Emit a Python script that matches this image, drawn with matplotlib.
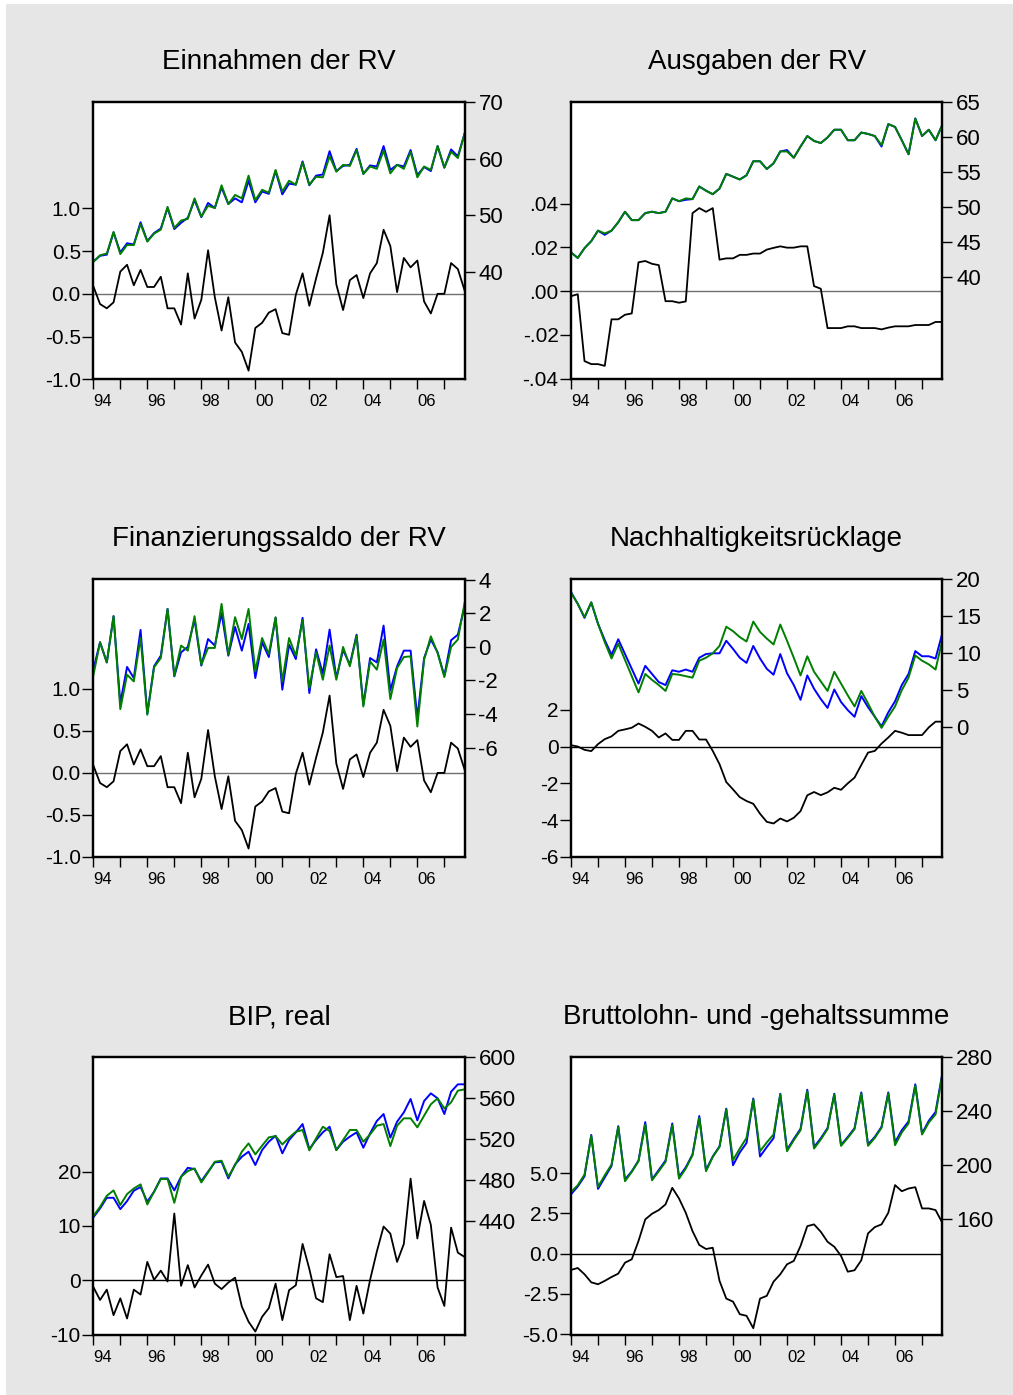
import matplotlib
matplotlib.use('Agg')
import matplotlib.pyplot as plt
import numpy as np
from matplotlib.patches import Rectangle

plt.rcParams['font.family'] = ['Liberation Sans', 'DejaVu Sans']
plt.rcParams['axes.unicode_minus'] = False

# quarterly observations 1994Q1 - 2007Q4
quarters = 1994 + np.arange(56) / 4.0
years = np.arange(1994, 2008)

# --- Einnahmen der RV
einnahmen_resid = [0.09, -0.12, -0.17, -0.10, 0.26, 0.34, 0.10, 0.28, 0.08, 0.08,
                   0.20, -0.17, -0.17, -0.36, 0.24, -0.29, -0.07, 0.51, -0.04, -0.43,
                   -0.04, -0.57, -0.68, -0.90, -0.40, -0.34, -0.22, -0.18, -0.46, -0.48,
                   -0.01, 0.24, -0.14, 0.18, 0.48, 0.92, 0.11, -0.19, 0.16, 0.22,
                   -0.05, 0.24, 0.36, 0.75, 0.56, 0.02, 0.42, 0.31, 0.39, -0.09,
                   -0.23, 0.00, 0.00, 0.36, 0.29, 0.04]
einnahmen_actual = [41.9, 42.9, 43.1, 47.0, 43.5, 45.1, 44.9, 48.8, 45.5, 46.9,
                    47.7, 51.3, 47.6, 48.7, 49.6, 52.7, 49.7, 52.2, 51.3, 54.9,
                    52.0, 53.0, 52.3, 56.1, 52.3, 54.2, 53.8, 57.8, 53.7, 55.6,
                    55.4, 59.5, 55.3, 57.0, 57.2, 61.3, 57.8, 58.7, 58.9, 61.7,
                    57.3, 58.8, 58.6, 62.2, 58.0, 58.9, 58.6, 61.5, 57.1, 58.5,
                    57.8, 62.2, 58.4, 61.6, 60.4, 64.4]
einnahmen_fitted = [41.8, 43.0, 43.3, 47.1, 43.2, 44.8, 44.8, 48.5, 45.4, 46.8,
                    47.5, 51.5, 47.8, 49.1, 49.4, 53.0, 49.8, 51.7, 51.3, 55.3,
                    52.0, 53.6, 53.0, 57.0, 52.7, 54.5, 54.0, 58.0, 54.2, 56.1,
                    55.4, 59.3, 55.4, 56.8, 56.7, 60.4, 57.7, 58.9, 58.7, 61.5,
                    57.3, 58.6, 58.2, 61.4, 57.4, 58.9, 58.2, 61.2, 56.7, 58.6,
                    58.0, 62.2, 58.4, 61.2, 60.1, 64.4]

# --- Ausgaben der RV
ausgaben_resid = [-0.0023, -0.0014, -0.032, -0.0334, -0.0334, -0.0342, -0.0129, -0.0129, -0.0108, -0.0102,
                  0.0132, 0.0138, 0.0125, 0.0119, -0.0046, -0.0046, -0.0053, -0.0047, 0.0357, 0.038,
                  0.0363, 0.038, 0.0144, 0.015, 0.015, 0.0166, 0.0166, 0.0172, 0.0172, 0.019,
                  0.0198, 0.0205, 0.0199, 0.0199, 0.0205, 0.0205, 0.0023, 0.0011, -0.0169, -0.0169,
                  -0.0169, -0.0161, -0.0161, -0.0169, -0.0169, -0.0169, -0.0175, -0.0167, -0.0161, -0.0161,
                  -0.0161, -0.0155, -0.0155, -0.0155, -0.0141, -0.0141]
ausgaben_actual = [43.5, 42.7, 44.1, 45.1, 46.6, 46.0, 46.6, 47.8, 49.3, 48.1,
                   48.1, 49.1, 49.3, 49.1, 49.3, 51.2, 50.8, 51.0, 51.1, 52.9,
                   52.3, 51.8, 52.6, 54.7, 54.3, 53.9, 54.5, 56.5, 56.5, 55.4,
                   56.2, 57.9, 58.1, 57.0, 58.6, 60.1, 59.4, 59.1, 59.9, 61.0,
                   61.0, 59.5, 59.5, 60.6, 60.4, 60.1, 58.6, 61.8, 61.4, 59.5,
                   57.5, 62.6, 60.1, 61.0, 59.5, 61.7]
ausgaben_fitted = [43.5, 42.7, 44.1, 45.1, 46.6, 46.2, 46.6, 47.8, 49.3, 48.1,
                   48.1, 49.1, 49.3, 49.1, 49.3, 51.2, 50.8, 51.2, 51.1, 52.9,
                   52.3, 51.8, 52.6, 54.7, 54.3, 53.9, 54.5, 56.5, 56.5, 55.4,
                   56.2, 57.9, 57.9, 57.0, 58.6, 60.1, 59.4, 59.1, 59.9, 61.0,
                   61.0, 59.5, 59.5, 60.6, 60.4, 60.1, 58.8, 61.8, 61.4, 59.5,
                   57.5, 62.6, 60.1, 61.0, 59.5, 61.7]

# --- Finanzierungssaldo der RV
saldo_resid = [0.09, -0.12, -0.17, -0.10, 0.26, 0.34, 0.10, 0.28, 0.08, 0.08,
               0.20, -0.17, -0.17, -0.36, 0.24, -0.29, -0.07, 0.51, -0.04, -0.43,
               -0.04, -0.57, -0.68, -0.90, -0.40, -0.34, -0.22, -0.18, -0.46, -0.48,
               -0.01, 0.24, -0.14, 0.18, 0.48, 0.92, 0.11, -0.19, 0.16, 0.22,
               -0.05, 0.24, 0.36, 0.75, 0.56, 0.02, 0.42, 0.31, 0.39, -0.09,
               -0.23, 0.00, 0.00, 0.36, 0.29, 0.04]
saldo_actual = [-1.36, 0.27, -0.93, 1.82, -3.35, -1.20, -1.86, 1.0, -3.98, -1.16,
                -0.53, 2.25, -1.76, -0.33, -0.01, 1.62, -1.12, 0.46, 0.07, 2.0,
                -0.53, 1.18, -0.23, 1.36, -1.86, 0.27, -0.61, 1.72, -2.55, 0.13,
                -0.73, 1.72, -2.75, -0.15, -1.60, 1.02, -1.86, -0.19, -1.06, 0.72,
                -3.45, -0.67, -0.93, 1.26, -2.59, -1.16, -0.23, -0.23, -4.24, -0.67,
                0.43, -0.33, -1.72, 0.39, 0.72, 2.4]
saldo_fitted = [-1.72, 0.27, -0.93, 1.82, -3.71, -1.66, -2.06, 0.52, -4.04, -1.22,
                -0.67, 2.25, -1.72, 0.07, -0.23, 1.82, -1.06, -0.07, -0.07, 2.55,
                -0.47, 1.76, 0.46, 2.25, -1.46, 0.52, -0.43, 1.76, -2.06, 0.52,
                -0.53, 1.58, -2.45, -0.33, -1.96, 0.07, -1.96, -0.01, -1.16, 0.66,
                -3.55, -0.87, -1.36, 0.43, -3.11, -1.26, -0.61, -0.57, -4.74, -0.77,
                0.62, -0.37, -1.80, -0.01, 0.43, 2.61]

# --- Nachhaltigkeitsruecklage
ruecklage_resid = [0.07, 0.0, -0.18, -0.25, 0.13, 0.40, 0.55, 0.85, 0.93, 1.02,
                   1.25, 1.07, 0.85, 0.49, 0.71, 0.36, 0.36, 0.85, 0.85, 0.38,
                   0.38, -0.24, -0.96, -1.93, -2.33, -2.75, -2.96, -3.11, -3.65, -4.09,
                   -4.18, -3.91, -4.07, -3.87, -3.51, -2.65, -2.47, -2.64, -2.49, -2.24,
                   -2.35, -2.0, -1.69, -1.0, -0.33, -0.24, 0.16, 0.49, 0.85, 0.75,
                   0.62, 0.62, 0.62, 1.04, 1.35, 1.35]
ruecklage_actual = [18.3, 16.7, 14.8, 16.9, 14.0, 11.8, 9.8, 11.9, 9.9, 7.9,
                    5.9, 8.3, 7.2, 6.1, 5.7, 7.7, 7.5, 7.8, 7.5, 9.4,
                    9.9, 10.0, 10.0, 11.7, 10.6, 9.4, 8.7, 11.0, 9.3, 7.9,
                    7.1, 9.9, 7.3, 5.7, 3.7, 7.0, 5.2, 3.8, 2.6, 5.1,
                    3.4, 2.3, 1.4, 4.2, 2.7, 1.4, 0.1, 2.0, 3.5, 5.7,
                    7.2, 10.3, 9.6, 9.6, 9.3, 12.7]
ruecklage_fitted = [18.2, 16.7, 14.9, 16.9, 14.0, 11.5, 9.3, 11.3, 9.1, 6.9,
                    4.7, 7.2, 6.4, 5.7, 4.9, 7.2, 7.1, 6.9, 6.7, 9.0,
                    9.4, 10.0, 11.0, 13.6, 13.0, 12.2, 11.6, 14.3, 12.9, 12.0,
                    11.2, 13.9, 11.7, 9.4, 7.0, 9.6, 7.5, 6.2, 4.9, 7.5,
                    5.9, 4.3, 2.8, 4.9, 3.2, 1.4, -0.1, 1.4, 2.8, 5.0,
                    6.7, 9.7, 9.0, 8.5, 7.8, 11.8]

# --- BIP, real
bip_resid = [-1.2, -3.6, -1.7, -6.4, -3.3, -7.0, -1.7, -2.6, 3.4, 0.1,
             1.8, -0.2, 12.3, -1.0, 2.8, -1.3, 0.9, 2.9, -0.6, -1.6,
             -0.4, 0.5, -4.8, -7.6, -9.4, -6.7, -5.1, -0.6, -7.3, -1.8,
             -0.9, 6.7, 2.1, -3.3, -4.0, 4.8, 0.6, 0.8, -7.3, -1.0,
             -6.1, 0.1, 5.3, 9.9, 8.6, 3.4, 6.7, 18.7, 7.7, 14.6,
             10.2, -1.3, -4.7, 9.7, 5.1, 4.3]
bip_actual = [443.6, 452.4, 462.8, 462.8, 451.7, 459.6, 469.7, 473.3, 459.0, 468.7,
              481.7, 481.7, 470.0, 483.4, 492.1, 490.8, 479.1, 488.3, 497.4, 498.0,
              481.7, 495.4, 502.9, 507.8, 494.8, 509.4, 517.6, 523.4, 506.2, 519.2,
              526.7, 534.8, 510.4, 519.2, 526.7, 532.2, 509.4, 517.6, 522.5, 526.7,
              511.7, 525.7, 537.8, 544.6, 521.5, 537.1, 546.2, 559.3, 538.4, 557.3,
              564.8, 559.9, 544.6, 566.4, 573.6, 573.6]
bip_fitted = [444.9, 454.0, 464.8, 470.0, 455.7, 466.4, 471.9, 475.9, 456.3, 468.7,
              481.1, 481.1, 457.9, 483.4, 488.9, 491.5, 477.8, 487.6, 498.0, 499.0,
              483.4, 494.8, 507.8, 515.9, 505.2, 513.7, 521.8, 523.1, 514.9, 521.5,
              527.3, 529.0, 509.1, 520.8, 532.2, 528.0, 509.4, 519.2, 529.0, 529.0,
              517.6, 524.7, 533.2, 534.8, 513.3, 533.2, 540.4, 540.4, 531.6, 543.0,
              554.1, 559.9, 550.1, 556.0, 567.4, 568.7]

# --- Bruttolohn- und -gehaltssumme
lohn_resid = [-1.01, -0.89, -1.28, -1.78, -1.90, -1.69, -1.45, -1.24, -0.56, -0.35,
              0.79, 2.13, 2.48, 2.71, 3.06, 4.09, 3.43, 2.54, 1.40, 0.54,
              0.29, 0.37, -1.69, -2.79, -2.98, -3.76, -3.86, -4.63, -2.79, -2.62,
              -1.74, -1.28, -0.66, -0.45, 0.48, 1.71, 1.82, 1.36, 0.74, 0.43,
              -0.14, -1.12, -1.03, -0.41, 1.26, 1.65, 1.82, 2.54, 4.26, 3.88,
              4.05, 4.13, 2.81, 2.81, 2.71, 1.92]
lohn_actual = [178.5, 184.3, 191.8, 222.5, 182.5, 191.0, 199.5, 229.0, 189.5, 195.5,
               203.5, 232.0, 189.5, 196.5, 203.5, 231.0, 191.5, 198.5, 208.0, 236.5,
               196.5, 206.5, 214.0, 242.0, 200.0, 209.5, 216.5, 249.5, 206.5, 213.5,
               220.0, 253.0, 211.5, 219.5, 227.0, 256.0, 213.5, 220.0, 227.5, 253.0,
               215.0, 221.0, 227.5, 254.0, 215.5, 221.0, 228.5, 254.0, 217.0, 226.0,
               232.5, 260.0, 223.5, 233.0, 239.5, 268.0]
lohn_fitted = [180.2, 185.2, 193.1, 221.8, 184.0, 192.6, 200.5, 228.5, 188.2, 195.1,
               203.0, 230.2, 188.9, 195.6, 202.5, 229.8, 190.1, 197.6, 207.5, 235.2,
               195.6, 206.2, 213.7, 241.4, 203.8, 212.4, 220.3, 248.8, 210.4, 216.9,
               222.8, 252.5, 210.4, 218.6, 226.0, 255.0, 212.4, 219.1, 226.8, 252.5,
               214.4, 220.3, 226.8, 253.3, 214.4, 220.3, 227.8, 253.3, 214.9, 224.3,
               231.0, 259.0, 222.8, 231.7, 237.7, 266.9]

W, H = 1013, 1395
fig = plt.figure(figsize=(W / 100, H / 100), dpi=100)
fig.patches.append(Rectangle((6 / W, 0), 1 - 6 / W, 1 - 4 / H, transform=fig.transFigure,
                             facecolor='#e6e6e6', edgecolor='none', zorder=-10))


def fmt1(v):
    return '%.1f' % v


def fmt_nolead(v):
    s = '%.2f' % v
    return s.replace('0.', '.', 1)


def fmt_int(v):
    return '%d' % v


def panel(left, top, title, resid, actual, fitted, lylim, lticks, lfmt,
          rylim, rticks, zero_color):
    pw, ph = 371.3, 277.5
    ax = fig.add_axes([left / W, 1 - (top + ph) / H, pw / W, ph / H])
    ax.set_facecolor('white')
    ax.axhline(0, color=zero_color, lw=1.0, zorder=1)
    ax.plot(quarters, resid, color='black', lw=1.3, zorder=2)
    ax.set_xlim(1994, 2007.75)
    ax.set_ylim(*lylim)
    ax.set_yticks(lticks)
    ax.set_yticklabels([lfmt(v) for v in lticks])
    ax.set_xticks(years)
    ax.set_xticklabels(['%02d' % (y % 100) if y % 2 == 0 else '' for y in years])
    for lab in ax.get_xticklabels():
        lab.set_horizontalalignment('left')
    ax.tick_params(axis='x', direction='out', length=7, width=1, pad=4, labelsize=12)
    ax.tick_params(axis='y', direction='out', length=8, width=1, pad=1, labelsize=15)

    ax2 = ax.twinx()
    ax2.plot(quarters, actual, color='#0000ff', lw=1.4)
    ax2.plot(quarters, fitted, color='#007f00', lw=1.4)
    ax2.set_ylim(*rylim)
    ax2.set_yticks(rticks)
    ax2.set_yticklabels([fmt_int(v) for v in rticks])
    ax2.tick_params(axis='y', direction='out', length=7, width=1, pad=3, labelsize=16)
    for a in (ax, ax2):
        for sp in a.spines.values():
            sp.set_linewidth(1.6)
            sp.set_color('black')
    fig.text((left + pw / 2) / W, 1 - (top - 33) / H, title, ha='center', va='baseline',
             fontsize=20)


L1, L2 = 93.3, 571.0
T1, T2, T3 = 101.7, 579.5, 1057.3

panel(L1, T1, 'Einnahmen der RV', einnahmen_resid, einnahmen_actual, einnahmen_fitted,
      (-1.0, 2.25), [-1.0, -0.5, 0.0, 0.5, 1.0], fmt1, (21.2, 70), [40, 50, 60, 70], '#707070')
panel(L2, T1, 'Ausgaben der RV', ausgaben_resid, ausgaben_actual, ausgaben_fitted,
      (-0.0403, 0.0867), [-0.04, -0.02, 0.0, 0.02, 0.04], fmt_nolead, (25.4, 65),
      [40, 45, 50, 55, 60, 65], '#707070')
panel(L1, T2, 'Finanzierungssaldo der RV', saldo_resid, saldo_actual, saldo_fitted,
      (-1.0, 2.3), [-1.0, -0.5, 0.0, 0.5, 1.0], fmt1, (-12.5, 4), [-6, -4, -2, 0, 2, 4], '#707070')
panel(L2, T2, 'Nachhaltigkeitsrücklage', ruecklage_resid, ruecklage_actual, ruecklage_fitted,
      (-6.0, 9.07), [-6, -4, -2, 0, 2], fmt_int, (-17.6, 20), [0, 5, 10, 15, 20], 'black')
panel(L1, T3, 'BIP, real', bip_resid, bip_actual, bip_fitted,
      (-10, 41), [-10, 0, 10, 20], fmt_int, (329, 600), [440, 480, 520, 560, 600], 'black')
panel(L2, T3, 'Bruttolohn- und -gehaltssumme', lohn_resid, lohn_actual, lohn_fitted,
      (-5.04, 12.2), [-5.0, -2.5, 0.0, 2.5, 5.0], fmt1, (74.4, 280), [160, 200, 240, 280], 'black')

fig.savefig('out.png', dpi=100, facecolor='white')
